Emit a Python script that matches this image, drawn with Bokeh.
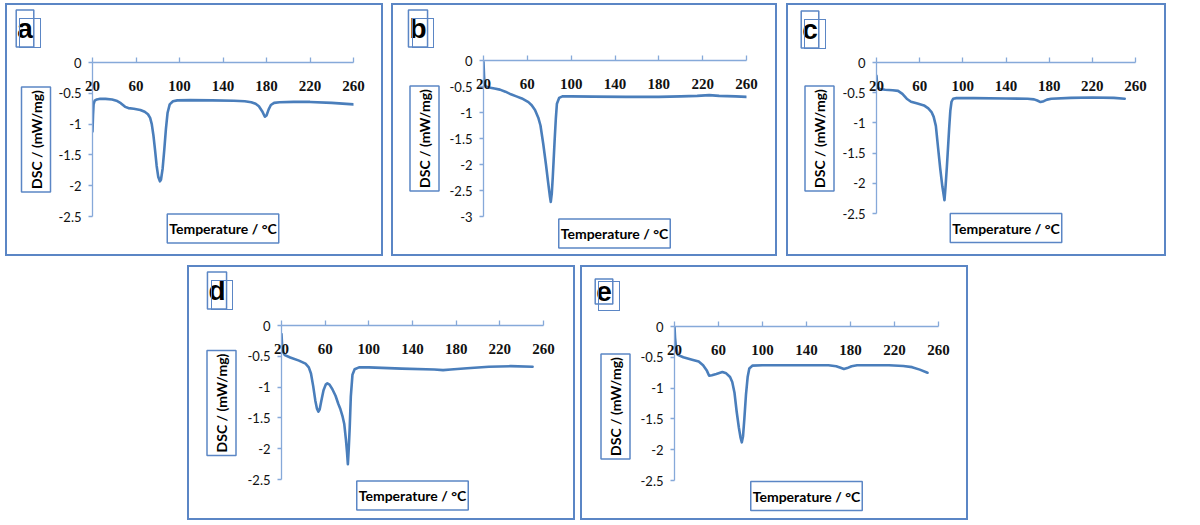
from bokeh.plotting import figure
from bokeh.models import Range1d, Label, FixedTicker, Spacer, CustomJSTickFormatter, Div
from bokeh.layouts import row, column
from bokeh.embed import file_html
from bokeh.resources import INLINE

# ---------------- data ----------------
PANEL_LETTERS = ["a", "b", "c", "d", "e"]
X_LABEL = "Temperature / °C"
Y_LABEL = "DSC / (mW/mg)"
X_TICKS = [20, 60, 100, 140, 180, 220, 260]
Y_TICKS_25 = [0, -0.5, -1, -1.5, -2, -2.5]
Y_TICKS_3 = [0, -0.5, -1, -1.5, -2, -2.5, -3]

T_a = [20, 20.5, 21, 22, 24, 27, 32, 38, 42, 46, 50, 53, 58, 64, 68, 71, 73, 74.5, 76, 77.5,
       79, 80.5, 82, 83, 84.5, 86, 87.5, 89, 91, 94, 98, 110, 130, 150, 160, 166, 170, 173, 176, 178.5,
       180, 182, 184, 187, 192, 205, 220, 240, 260]
DSC_a = [-1.12, -0.85, -0.68, -0.62, -0.6, -0.59, -0.59, -0.6, -0.62, -0.66, -0.72, -0.74, -0.75, -0.77, -0.8, -0.84, -0.9, -1.0, -1.18, -1.42,
         -1.68, -1.86, -1.93, -1.9, -1.72, -1.42, -1.08, -0.82, -0.68, -0.63, -0.615, -0.61, -0.615, -0.62, -0.63, -0.645, -0.67, -0.71, -0.79, -0.88,
         -0.86, -0.76, -0.69, -0.655, -0.645, -0.64, -0.64, -0.655, -0.68]

T_b = [20, 20.5, 21, 22, 25, 30, 35, 40, 45, 50, 55, 61, 64, 67, 70, 72, 74.5, 77, 79, 80.5,
       81.4, 82.3, 83.2, 84, 85, 86, 87, 89, 92, 100, 120, 150, 180, 200, 215, 226, 235, 250, 260]
DSC_b = [-0.03, -0.3, -0.45, -0.5, -0.52, -0.54, -0.56, -0.6, -0.65, -0.69, -0.73, -0.8, -0.86, -0.95, -1.1, -1.25, -1.6, -2.0, -2.35, -2.6,
         -2.72, -2.56, -2.25, -1.92, -1.5, -1.12, -0.83, -0.72, -0.69, -0.69, -0.695, -0.7, -0.7, -0.69, -0.68, -0.665, -0.68, -0.69, -0.7]

T_c = [20, 20.5, 21.5, 23, 28, 35, 40, 44, 48, 52, 58, 64, 68, 71, 73, 75, 77, 79, 81, 83,
       84, 85.2, 86.3, 87.4, 88.4, 89.5, 91, 94, 110, 140, 160, 166, 169, 172, 175, 178, 182, 200, 220, 240, 250]
DSC_c = [-0.22, -0.34, -0.42, -0.44, -0.45, -0.46, -0.47, -0.52, -0.6, -0.65, -0.68, -0.71, -0.76, -0.82, -0.9, -1.05, -1.4, -1.75, -2.05, -2.28,
         -2.05, -1.73, -1.4, -1.07, -0.8, -0.65, -0.6, -0.59, -0.59, -0.595, -0.6, -0.61, -0.63, -0.655, -0.64, -0.615, -0.6, -0.585, -0.58, -0.585, -0.6]

T_d = [20, 20.5, 21, 23, 28, 36, 42, 45, 47, 49, 51, 52.5, 53.8, 55, 56.5, 58.5, 60.5, 62, 64, 66.5,
       69.5, 72, 74, 76, 77.5, 79, 80, 80.8, 81.6, 82.5, 83.5, 85, 87, 91, 100, 130, 160, 168, 175, 190,
       210, 230, 250]
DSC_d = [-0.14, -0.3, -0.42, -0.48, -0.52, -0.57, -0.62, -0.68, -0.78, -0.98, -1.22, -1.35, -1.4, -1.36, -1.22, -1.05, -0.96, -0.94, -0.96, -1.03,
         -1.14, -1.27, -1.36, -1.48, -1.6, -1.85, -2.05, -2.25, -2.0, -1.65, -1.15, -0.8, -0.71, -0.68, -0.68, -0.7, -0.715, -0.725, -0.715, -0.695,
         -0.67, -0.66, -0.67]

T_e = [20, 20.5, 21.2, 23, 28, 36, 42, 46, 49.5, 51.5, 54, 58, 63.5, 67, 70.5, 72.5, 74.5, 76.5, 78.5, 80,
       81.2, 82.3, 83.5, 85, 86.5, 88, 91, 100, 130, 160, 167, 171, 174, 177, 181, 186, 200, 215, 228, 236,
       243, 250]
DSC_e = [0.0, -0.18, -0.32, -0.46, -0.5, -0.54, -0.57, -0.63, -0.72, -0.8, -0.79, -0.77, -0.74, -0.76, -0.82, -0.9, -1.07, -1.38, -1.64, -1.8,
         -1.88, -1.78, -1.5, -1.1, -0.82, -0.68, -0.635, -0.63, -0.63, -0.63, -0.645, -0.67, -0.69, -0.675, -0.645, -0.63, -0.63, -0.63, -0.64, -0.66,
         -0.7, -0.75]

# ---------------- styling ----------------
LINE_C = "#4a7ebb"
AXIS_C = "#86a9d9"
BOX_C = "#5b86c5"
TXT_C = "#111111"
BW = 2  # panel border width

# panel geometry (outer size incl. border, frame margins), box centres in panel coords
GEOM = {
    "a": dict(W=378, H=253, L=87, R=30, T=59, B=40, letter=(19.5, 25), ylab=(30.5, 136), xlab=(217.5, 225)),
    "b": dict(W=386, H=253, L=92, R=31, T=57, B=40, letter=(26.5, 25), ylab=(33, 135), xlab=(223, 230)),
    "c": dict(W=380, H=253, L=90, R=31, T=59, B=43, letter=(23.5, 26), ylab=(33, 135), xlab=(219.5, 224.5)),
    "d": dict(W=388, H=255, L=94, R=32, T=60, B=41, letter=(29.5, 25), ylab=(34, 137.5), xlab=(225, 230)),
    "e": dict(W=388, H=255, L=94, R=30, T=61, B=40, letter=(23.5, 26), ylab=(35, 141), xlab=(226, 230.5)),
}
LETTER_BOX_W = 22
LETTER_BOX_H = 30


def make_box(g, ymin, text, centre, **kw):
    cx, cy = centre
    fw = g["W"] - g["L"] - g["R"]
    fh = g["H"] - g["T"] - g["B"]
    x = 20 + (cx - g["L"]) * 240.0 / fw
    y = -(cy - g["T"]) * (-ymin) / fh
    return Label(x=x, y=y, text=text,
                 text_align="center", text_baseline="middle",
                 border_line_color=BOX_C, border_line_width=1.5,
                 background_fill_color="white", text_color="#000000", **kw)


def make_panel(letter, T, v, ymin, yticks):
    g = GEOM[letter]
    p = figure(width=g["W"] - 2 * BW, height=g["H"] - 2 * BW,
               x_range=Range1d(20, 260), y_range=Range1d(ymin, 0),
               x_axis_location="above", output_backend="svg", toolbar_location=None,
               min_border_left=g["L"] - BW, min_border_right=g["R"] - BW,
               min_border_top=g["T"] - BW, min_border_bottom=g["B"] - BW)
    p.xgrid.visible = False
    p.ygrid.visible = False
    p.outline_line_color = None
    p.background_fill_color = "white"
    p.border_fill_color = "white"

    xa = p.xaxis[0]
    xa.ticker = FixedTicker(ticks=X_TICKS)
    xa.axis_line_color = AXIS_C
    xa.axis_line_width = 1.3
    xa.major_tick_line_color = AXIS_C
    xa.major_tick_line_width = 1.3
    xa.major_tick_out = 5
    xa.major_tick_in = 0
    xa.minor_tick_line_color = None
    xa.major_label_standoff = -33
    xa.major_label_text_font = "Liberation Serif"
    xa.major_label_text_font_style = "bold"
    xa.major_label_text_font_size = "15px"
    xa.major_label_text_color = TXT_C

    ya = p.yaxis[0]
    ya.ticker = FixedTicker(ticks=yticks)
    ya.formatter = CustomJSTickFormatter(code="return tick.toString();")
    ya.axis_line_color = AXIS_C
    ya.axis_line_width = 1.3
    ya.major_tick_line_color = AXIS_C
    ya.major_tick_line_width = 1.3
    ya.major_tick_out = 4
    ya.major_tick_in = 0
    ya.minor_tick_line_color = None
    ya.major_label_standoff = 7
    ya.major_label_text_font = "Lato"
    ya.major_label_text_font_size = "13px"
    ya.major_label_text_color = TXT_C

    p.line(T, v, line_width=2.6, color=LINE_C, line_join="round", line_cap="round")

    ylab_box = make_box(g, ymin, Y_LABEL, g["ylab"], angle=1.5707963, text_font="Lato",
                        text_font_style="bold", text_font_size="14px", padding=(3, 6))
    letter_lab = make_box(g, ymin, letter, g["letter"], text_font="Liberation Sans",
                          text_font_style="bold", text_font_size="28px", padding=(1, 3))
    xlab_box = make_box(g, ymin, X_LABEL, g["xlab"], text_font="Lato",
                        text_font_style="bold", text_font_size="14px", padding=(2, 6))
    p.add_layout(ylab_box, "left")
    p.add_layout(letter_lab, "left")
    p.add_layout(xlab_box, "below")

    # frame drawn round the panel letter (HTML overlay, absolutely positioned)
    cx, cy = g["letter"]
    box = Div(text="", width=LETTER_BOX_W, height=LETTER_BOX_H,
              styles={"position": "absolute",
                      "left": f"{cx - LETTER_BOX_W / 2 - BW:.1f}px",
                      "top": f"{cy - LETTER_BOX_H / 2 - BW:.1f}px",
                      "border": f"1.5px solid {BOX_C}",
                      "box-sizing": "border-box",
                      "background": "transparent",
                      "z-index": "5",
                      "pointer-events": "none"})

    wrap = column(p, box, styles={"border": f"{BW}px solid {BOX_C}",
                                  "background-color": "white",
                                  "position": "relative"})
    return wrap


pa = make_panel("a", T_a, DSC_a, -2.5, Y_TICKS_25)
pb = make_panel("b", T_b, DSC_b, -3.0, Y_TICKS_3)
pc = make_panel("c", T_c, DSC_c, -2.5, Y_TICKS_25)
pd = make_panel("d", T_d, DSC_d, -2.5, Y_TICKS_25)
pe = make_panel("e", T_e, DSC_e, -2.5, Y_TICKS_25)

top = row(pa, Spacer(width=8, height=253), pb, Spacer(width=9, height=253), pc)
bottom = row(Spacer(width=182, height=255), pd, Spacer(width=5, height=255), pe)
layout = column(top, Spacer(width=10, height=9), bottom)
layout.styles = {"margin-left": "5px", "margin-top": "3px"}

open("out.html", "w").write(file_html(layout, INLINE))
